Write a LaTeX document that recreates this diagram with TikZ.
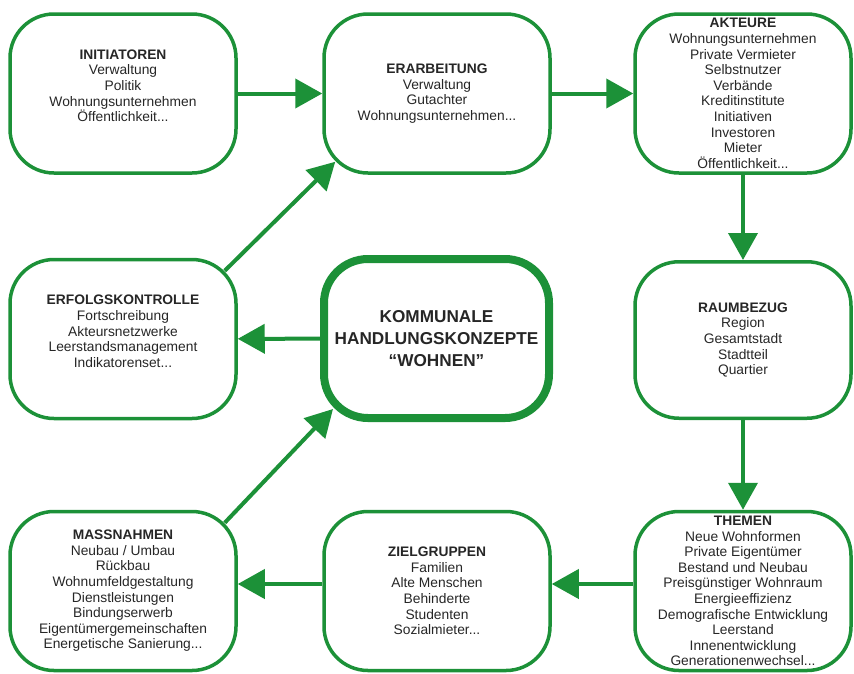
\documentclass[tikz,border=0pt]{standalone}
\usepackage{fontspec}
\setmainfont{Liberation Sans}
\usetikzlibrary{arrows.meta}
\definecolor{kgreen}{RGB}{28,145,56}

\begin{document}
\begin{tikzpicture}
			[x=1pt, y=-1pt, line width=3.5pt,
			block/.style ={draw=kgreen, rounded corners=44pt, align=center, minimum width=226pt, minimum height=159pt, inner sep=2pt, text=black!85, font=\fontsize{13.8}{15.6}\selectfont},
			small/.style ={block, minimum width=216pt},
			core/.style ={block, line width=8pt, minimum width=225pt, minimum height=159pt, font=\fontsize{17.2}{22}\selectfont\bfseries},
			arr/.style ={draw=kgreen, line width=4pt, -{Triangle[length=27pt,width=29pt]}}]
			\useasboundingbox (0,0) rectangle (854,673);
			% top row
			\node[block] (init) at (123,93.5) {\textbf{INITIATOREN}\\Verwaltung\\Politik\\Wohnungsunternehmen\\Öffentlichkeit...\\ \mbox{}};
			\node[block] (erar) at (437,93.5) {\textbf{ERARBEITUNG}\\Verwaltung\\Gutachter\\Wohnungsunternehmen...};
			\node[small] (akt) at (743,93.5) {\textbf{AKTEURE}\\Wohnungsunternehmen\\Private Vermieter\\Selbstnutzer\\Verbände\\Kreditinstitute\\Initiativen\\Investoren\\Mieter\\Öffentlichkeit...};
			% middle row
			\node[block] (erf) at (123,339) {\textbf{ERFOLGSKONTROLLE}\\Fortschreibung\\Akteursnetzwerke\\Leerstandsmanagement\\Indikatorenset...\\ \mbox{}};
			\node[core] (core) at (436.5,338.5) {KOMMUNALE\\HANDLUNGSKONZEPTE\\“WOHNEN”};
			\node[small, minimum height=156.5pt] (raum) at (743,340) {\textbf{RAUMBEZUG}\\Region\\Gesamtstadt\\Stadtteil\\Quartier};
			% bottom row
			\node[block] (mass) at (123,591) {\textbf{MASSNAHMEN}\\Neubau / Umbau\\Rückbau\\Wohnumfeldgestaltung\\Dienstleistungen\\Bindungserwerb\\Eigentümergemeinschaften\\Energetische Sanierung...};
			\node[block] (ziel) at (437,591) {\textbf{ZIELGRUPPEN}\\Familien\\Alte Menschen\\Behinderte\\Studenten\\Sozialmieter...};
			\node[small] (them) at (743,591) {\textbf{THEMEN}\\Neue Wohnformen\\Private Eigentümer\\Bestand und Neubau\\Preisgünstiger Wohnraum\\Energieeffizienz\\Demografische Entwicklung\\Leerstand\\Innenentwicklung\\Generationenwechsel...};
			% arrows
			\draw[arr] (init) -- (erar);
			\draw[arr] (erar) -- (akt);
			\draw[arr] (akt) -- (raum);
			\draw[arr] (raum) -- (them);
			\draw[arr] ([yshift=7pt]them.west) -- ([yshift=7pt]ziel.east);
			\draw[arr] ([yshift=7pt]ziel.west) -- ([yshift=7pt]mass.east);
			\draw[arr] (core) -- (erf);
			\draw[arr] ([xshift=-13pt,yshift=-13pt]erf.north east) -- ([xshift=13pt,yshift=13pt]erar.south west);
			\draw[arr] ([xshift=-13pt,yshift=-13pt]mass.north east) -- ([xshift=13pt,yshift=13pt]core.south west);
		\end{tikzpicture}
\end{document}
